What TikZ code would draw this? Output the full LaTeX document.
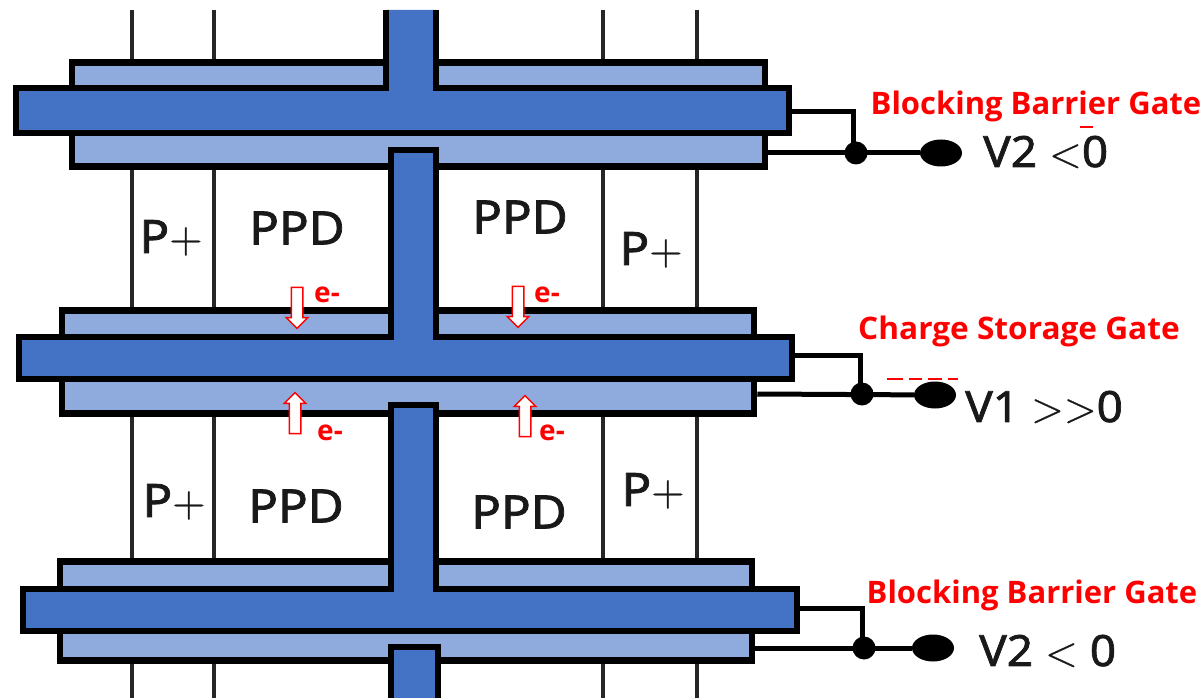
\documentclass[tikz,border=0pt]{standalone}
\usepackage{fontspec}
\setmainfont{Noto Sans}
\newfontfamily\semifont{Noto Sans}[FakeBold=1.6,FakeStretch=1.07]
\newfontfamily\thinfont{Latin Modern Roman}[FakeBold=0.5]
\newfontfamily\redfont{Open Sans}
\usetikzlibrary{shapes.arrows,shapes.geometric,calc}
\definecolor{gatedark}{HTML}{4472C4}
\definecolor{gatelight}{HTML}{8FAADC}
\tikzset{
  x=1pt,y=-1pt,
  wire/.style={draw=black!85,line width=3.5pt},
  lightbar/.style={draw=black,line width=6.5pt,fill=gatelight,inner sep=0,rectangle},
  tee/.style={draw=black,line width=6.5pt,fill=gatedark,line join=miter},
  lead/.style={draw=black,line width=5pt},
  junction/.style={circle,fill=black,inner sep=0,minimum size=23pt},
  terminal/.style={ellipse,fill=black,inner sep=0,minimum width=42pt,minimum height=27pt},
  gatelabel/.style={text=red,font=\redfont\fontsize{31}{34}\selectfont\bfseries,inner sep=0},
  regionlabel/.style={text=black!90,font=\semifont\fontsize{46}{48}\selectfont,inner sep=0},
  voltlabel/.style={text=black!90,font=\semifont\fontsize{43}{46}\selectfont,inner sep=0,anchor=west},
  elabel/.style={text=red,font=\redfont\fontsize{28}{30}\selectfont\bfseries,inner sep=0},
  flow/.style={single arrow,draw=red,fill=white,line width=1.5pt,inner xsep=0,inner ysep=5pt,
    minimum height=41pt,minimum width=20pt,single arrow head extend=5pt,single arrow head indent=0pt},
}
\begin{document}
\begin{tikzpicture}
\useasboundingbox (0,0) rectangle (1204,700);
% vertical column lines
\foreach \x in {132,214,603,697} \draw[wire] (\x,10) -- (\x,698);
% light gates
\node[lightbar,minimum width=693pt,minimum height=104pt] (L1) at (418.5,114.5) {};
\node[lightbar,minimum width=692pt,minimum height=103pt] (L2) at (408,362) {};
\node[lightbar,minimum width=692pt,minimum height=99pt] (L3) at (406,611) {};
% dark gates with their stems
\draw[tee] (386,10) -- (386,88) -- (16,88) -- (16,133) -- (789,133) -- (789,88) -- (436,88) -- (436,10);
\draw[tee] (391,150) -- (391,337) -- (19,337) -- (19,379) -- (792,379) -- (792,337) -- (436,337) -- (436,150) -- cycle;
\draw[tee] (391,405) -- (391,589) -- (23,589) -- (23,631) -- (797,631) -- (797,589) -- (436,589) -- (436,405) -- cycle;
\draw[tee] (391,698) -- (391,647) -- (438,647) -- (438,698);
\coordinate (B1) at (789,112);
\coordinate (B2) at (792,355);
\coordinate (B3) at (797,608);
% junctions and terminals
\node[junction] (J1) at (856,153) {};
\node[junction] (J2) at (862,394) {};
\node[junction] (J3) at (864,648) {};
\node[terminal] (E1) at (941,153) {};
\node[terminal] (E2) at (935,395) {};
\node[terminal] (E3) at (933,648) {};
\draw[lead] (B1) -| ([xshift=-3pt]J1.center);
\draw[lead] (B2) -| ([xshift=-2pt]J2.center);
\draw[lead] (B3) -| ([xshift=-2pt]J3.center);
\draw[lead] (L1.east |- J1) -- (E1);
\draw[lead] (L2.east |- J2) -- (E2);
\draw[lead] (L3.east |- J3) -- (E3);
% region labels
\node[regionlabel] (a1) at (171,238) {P{\thinfont +}};
\node[regionlabel] (a2) at (651,250) {P{\thinfont +}};
\node[regionlabel] (a3) at (174,502) {P{\thinfont +}};
\node[regionlabel] (a4) at (653,491) {P{\thinfont +}};
\node[regionlabel] (b1) at (297,228) {PPD};
\node[regionlabel] (b2) at (520,217) {PPD};
\node[regionlabel] (b3) at (296,506) {PPD};
\node[regionlabel] (b4) at (519,512) {PPD};
% flow arrows
\node[flow,rotate=-90] (f1) at (297,305) {};
\node[flow,rotate=-90] (f2) at (518,304) {};
\node[flow,rotate=90] (f3) at (295,416) {};
\node[flow,rotate=90] (f4) at (525,419) {};
\node[elabel] (e1) at (327,295) {e-};
\node[elabel] (e2) at (547,295) {e-};
\node[elabel] (e3) at (330,433) {e-};
\node[elabel] (e4) at (552,433) {e-};
% gate labels
\node[gatelabel] (g1) at (1036,106) {Blocking Barrier Gate};
\node[gatelabel,xscale=1.02] (g2) at (1019,331) {Charge Storage Gate};
\node[gatelabel] (g3) at (1032,595) {Blocking Barrier Gate};
% voltages
\node[voltlabel] (v1) at (983,152) {V2 {\thinfont <}0};
\node[voltlabel] (v2) at (965,407) {V1 {\thinfont >>}0};
\node[voltlabel] (v3) at (979,651) {V2 {\thinfont <} 0};
% leftover red marks
\fill[red] (1080,126.5) rectangle (1093,128.5);
\foreach \a/\b in {887/903,909/922,928/942,948/958} \fill[red] (\a,378) rectangle (\b,380);
\end{tikzpicture}
\end{document}
